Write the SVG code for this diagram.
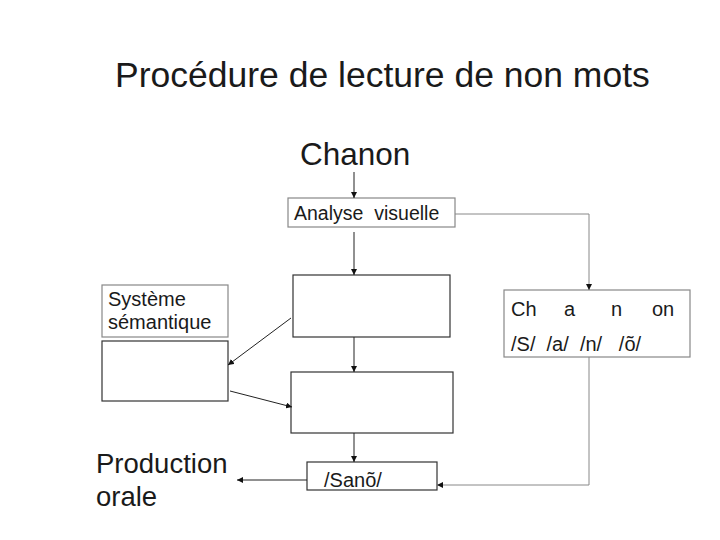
<svg xmlns="http://www.w3.org/2000/svg" width="720" height="540" viewBox="0 0 720 540">
<style>
text{font-family:"Liberation Sans",Arial,sans-serif;fill:#1a1a1a}
.mid{font-size:20px}
.box{fill:#fff;stroke:#333;stroke-width:1.2}
.lbox{fill:#fff;stroke:#888;stroke-width:1.2}
.c{fill:none;stroke:#222;stroke-width:1}
.g{fill:none;stroke:#888;stroke-width:1}
</style>
<defs>
<marker id="ah" viewBox="0 0 10 10" refX="10" refY="5" markerWidth="6" markerHeight="6" orient="auto"><path d="M0,0L10,5L0,10z" fill="#111"/></marker>
</defs>
<rect width="720" height="540" fill="#fff"/>
<text x="115" y="87" font-size="35.5">Procédure de lecture de non mots</text>
<text x="300" y="165" font-size="31.5">Chanon</text>
<g id="analyse"><rect class="lbox" x="288" y="198" width="167" height="29"/><text class="mid" x="294" y="220" font-size="19.5" style="font-size:19.5px" xml:space="preserve">Analyse  visuelle</text></g>
<g id="boxA"><rect class="box" x="293" y="275" width="157" height="62"/></g>
<g id="boxB"><rect class="box" x="291" y="372" width="162" height="61"/></g>
<g id="semantique"><rect class="lbox" x="102" y="285" width="126" height="52"/><text class="mid" x="108" y="306">Système</text><text class="mid" x="108" y="329">sémantique</text></g>
<g id="semBox"><rect class="box" x="102" y="341" width="126" height="60"/></g>
<g id="graph"><rect class="lbox" x="504" y="290" width="186" height="67"/>
<text class="mid" x="511" y="316">Ch</text><text class="mid" x="564" y="316">a</text><text class="mid" x="611" y="316">n</text><text class="mid" x="652" y="316">on</text>
<text class="mid" x="511" y="351" xml:space="preserve">/S/  /a/  /n/   /õ/</text></g>
<g id="sano"><rect class="box" x="307" y="462" width="130" height="28"/><text class="mid" x="324" y="487">/Sanõ/</text></g>
<g id="production"><text x="96" y="473" font-size="27.5">Production</text><text x="96" y="506" font-size="27.5">orale</text></g>
<g id="connectors">
<path class="c" d="M354,172V198" marker-end="url(#ah)"/>
<path class="c" d="M354,232V275" marker-end="url(#ah)"/>
<path class="c" d="M354,337V372" marker-end="url(#ah)"/>
<path class="c" d="M354,433V462" marker-end="url(#ah)"/>
<path class="c" d="M291,318L228,365" marker-end="url(#ah)"/>
<path class="c" d="M230,391L292,407" marker-end="url(#ah)"/>
<path class="g" d="M455,214H589V290" marker-end="url(#ah)"/>
<path class="g" d="M589,357V485H437" marker-end="url(#ah)"/>
<path class="c" d="M307,480H237" marker-end="url(#ah)"/>
</g>
</svg>
